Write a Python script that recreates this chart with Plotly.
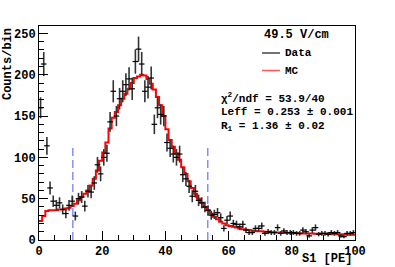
import plotly.graph_objects as go
import numpy as np

# ---- data ----
bin_edges = list(range(0, 101))
data_counts = [160, 213, 114, 63, 47, 42, 45, 37, 32, 42,
               47, 29, 50, 52, 41, 59, 58, 69, 91, 80,
               100, 105, 143, 180, 150, 171, 180, 188, 195, 183,
               216, 231, 213, 180, 185, 196, 140, 160, 152, 150,
               118, 111, 104, 100, 104, 79, 74, 65, 53, 59,
               48, 45, 40, 36, 30, 31, 33, 27, 14, 24,
               29, 20, 19, 16, 19, 12, 9, 9, 14, 14,
               17, 8, 10, 9, 9, 15, 8, 11, 9, 9,
               9, 8, 8, 12, 10, 5, 12, 15, 7, 8,
               8, 7, 9, 8, 9, 5, 4, 8, 8, 9]
mc_counts = [23, 29, 35, 36, 36, 36, 37, 37, 38, 39,
             41, 44, 48, 52, 56, 60, 66, 74, 84, 96,
             106, 118, 135, 148, 155, 163, 171, 177, 183, 190,
             196, 198, 200, 199, 195, 189, 182, 173, 163, 150,
             134, 121, 113, 105, 97, 88, 80, 71, 63, 56,
             50, 45, 40, 36, 32, 28, 25, 22, 20, 18,
             17, 16, 15, 14, 13, 12.5, 12, 11.5, 11, 10.5,
             10.5, 10, 10, 9.5, 9.5, 9, 9, 9, 8.5, 8.5,
             8.5, 8.5, 8, 8, 8, 8, 8, 7.5, 7.5, 7.5,
             7.5, 7.5, 7, 7, 7, 7, 7, 6.5, 6.5, 6.5]
fit_range = [10.7, 53.4]
fit_line_top = 116

legend_title = "49.5 V/cm"
stats_lines = ["χ<sup>2</sup>/ndf = 53.9/40",
               "Leff = 0.253 ± 0.001",
               "R<sub>1</sub> = 1.36 ± 0.02"]

centers = [(bin_edges[i] + bin_edges[i + 1]) / 2 for i in range(len(data_counts))]
errs = [float(np.sqrt(v)) for v in data_counts]

FONT = "Liberation Mono"

fig = go.Figure()

# MC step histogram
fig.add_trace(go.Scatter(
    x=bin_edges, y=mc_counts + [mc_counts[-1]], mode="lines",
    line=dict(color="#ff0000", width=2, shape="hv"), showlegend=False))

# fit range lines
for xv in fit_range:
    fig.add_trace(go.Scatter(
        x=[xv, xv], y=[0, fit_line_top], mode="lines",
        line=dict(color="rgba(90,90,255,0.7)", width=1.5, dash="8px,4px"),
        showlegend=False))

# data points
fig.add_trace(go.Scatter(
    x=centers, y=data_counts, mode="markers",
    marker=dict(symbol="line-ew", size=4, line=dict(color="black", width=1.2)),
    error_y=dict(type="data", array=errs, color="#333333", thickness=1.6, width=0),
    showlegend=False))

axis_common = dict(showgrid=False, zeroline=False, showline=True, mirror=True,
                   linecolor="black", linewidth=1, ticks="inside",
                   tickcolor="black", tickwidth=1, ticklen=9, automargin=False,
                   tickfont=dict(family=FONT, size=12, color="black", weight="bold"))

fig.update_xaxes(range=[0, 100], dtick=20, tick0=0,
                 minor=dict(ticks="inside", ticklen=5, dtick=5, tickcolor="black"),
                 **axis_common)
fig.update_yaxes(range=[0, 259], dtick=50, tick0=0,
                 minor=dict(ticks="inside", ticklen=5, dtick=10, tickcolor="black"),
                 **axis_common)

annotations = []
# axis titles
annotations.append(dict(text="Counts/bin", xref="paper", yref="paper",
                        x=-0.098, y=1.0, xanchor="center", yanchor="top",
                        textangle=-90, showarrow=False,
                        font=dict(family=FONT, size=12, color="black", weight="bold")))
annotations.append(dict(text="S1 [PE]", xref="paper", yref="paper",
                        x=0.995, y=-0.089, xanchor="right", yanchor="middle",
                        showarrow=False, borderpad=0,
                        font=dict(family=FONT, size=12, color="black", weight="bold")))
# legend
annotations.append(dict(text=legend_title, xref="paper", yref="paper",
                        x=(262 - 39) / 316, y=(240 - 35) / 214, xanchor="left", yanchor="middle",
                        showarrow=False,
                        font=dict(family=FONT, size=12, color="black", weight="bold")))
for name, yc in [("Data", 53), ("MC", 70.5)]:
    annotations.append(dict(text=name, xref="paper", yref="paper",
                            x=(283 - 39) / 316, y=(240 - yc) / 214, xanchor="left", yanchor="middle",
                            showarrow=False,
                            font=dict(family=FONT, size=11, color="black", weight="bold")))
for i, s in enumerate(stats_lines):
    yc = 98.5 + 14 * i
    annotations.append(dict(text=s, xref="paper", yref="paper",
                            x=(219 - 39) / 316, y=(240 - yc) / 214, xanchor="left", yanchor="middle",
                            showarrow=False,
                            font=dict(family=FONT, size=11, color="black", weight="bold")))

shapes = [
    dict(type="line", xref="paper", yref="paper",
         x0=(262 - 39) / 316, x1=(280 - 39) / 316,
         y0=(240 - 53) / 214, y1=(240 - 53) / 214,
         line=dict(color="#444444", width=1.5)),
    dict(type="line", xref="paper", yref="paper",
         x0=(262 - 39) / 316, x1=(280 - 39) / 316,
         y0=(240 - 70.5) / 214, y1=(240 - 70.5) / 214,
         line=dict(color="#ff5555", width=1.5)),
]

fig.update_layout(width=395, height=267,
                  margin=dict(l=39, r=40, t=26, b=27),
                  paper_bgcolor="white", plot_bgcolor="white",
                  annotations=annotations, shapes=shapes,
                  showlegend=False)

fig.write_html("out.html",
               config={"displayModeBar": False},
               post_script="document.body.style.margin='0';document.body.style.padding='0';")
